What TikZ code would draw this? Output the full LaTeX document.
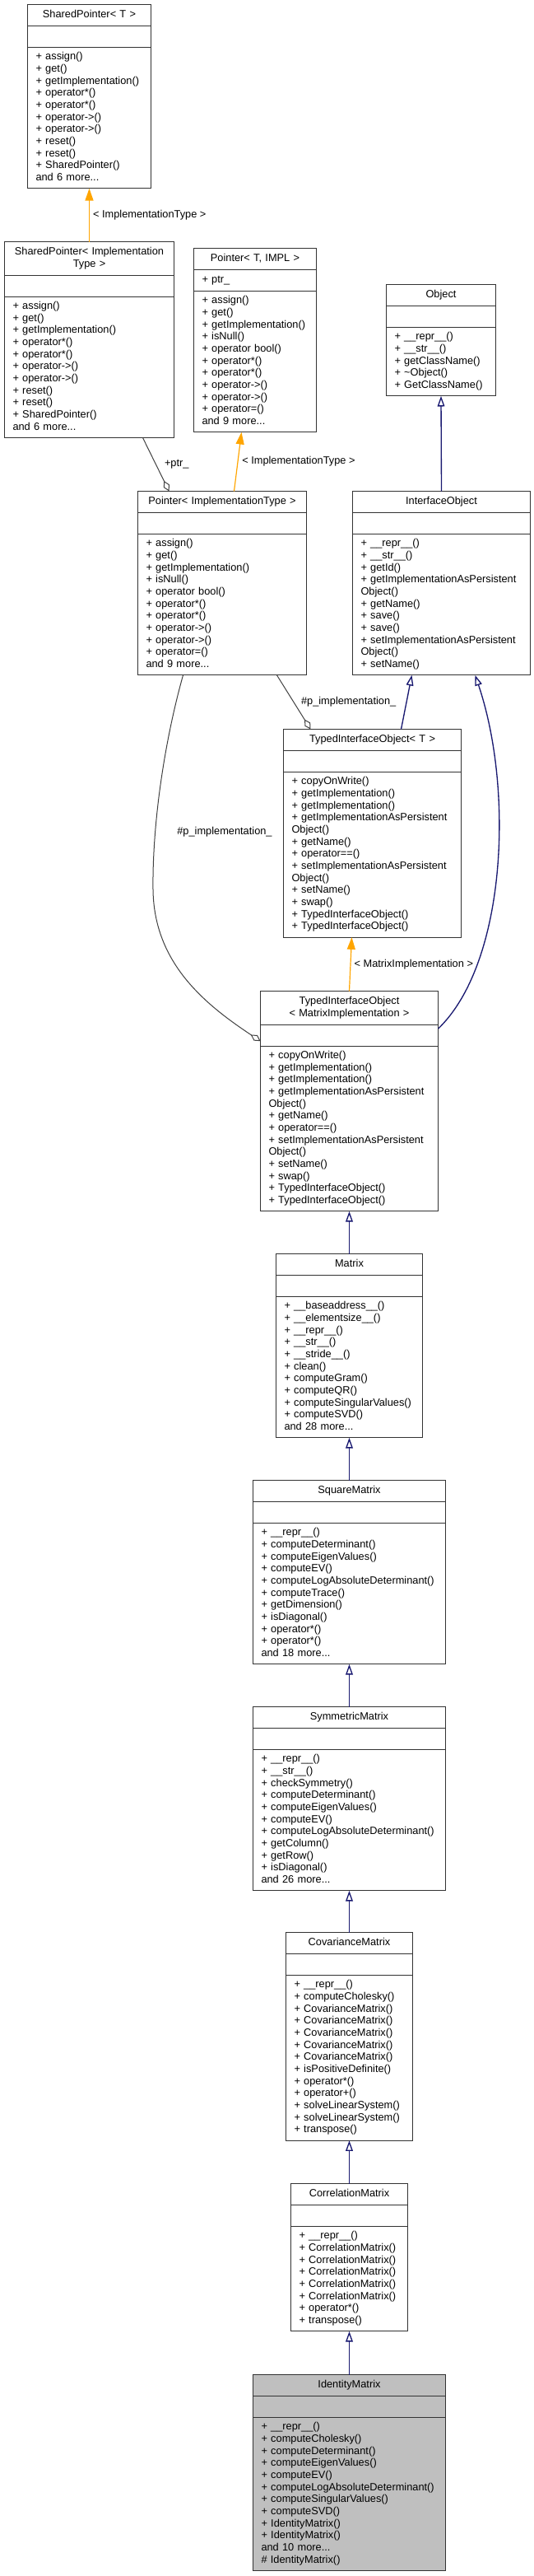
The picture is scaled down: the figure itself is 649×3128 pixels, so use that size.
\documentclass[tikz,border=0pt]{standalone}
\usepackage{fontspec}
\setmainfont{Liberation Sans}
\usetikzlibrary{arrows.meta,calc}
\definecolor{DoxNavy}{HTML}{191970}
\definecolor{DoxOrange}{HTML}{FFA500}
\definecolor{DoxGrey}{HTML}{404040}
\definecolor{DoxSel}{HTML}{BFBFBF}
% one class = title, attributes, operations (x = box width in px)
\newcommand{\umlclass}[7][white]{%
 \pgfmathsetlengthmacro{\clswd}{(#4-20)*0.75pt}%
 \node[clstitle,fill=#1,text width=\clswd,anchor=north west] (#2) at (#3) {#5};
 \node[clsattr,fill=#1,text width=\clswd,anchor=north west] (#2-a) at (#2.south west) {#6};
 \node[clsops,fill=#1,text width=\clswd,anchor=north west] (#2-m) at (#2-a.south west) {#7};
 \draw[clsline] (#2.north west) rectangle (#2-m.south east)
  (#2.south west) -- (#2.south east) (#2-a.south west) -- (#2-a.south east);}

\begin{document}
\begin{tikzpicture}[x=0.75pt,y=-0.75pt,
 every node/.style={font=\fontsize{9.6pt}{11pt}\selectfont},
 clsbox/.style={inner xsep=7.5pt,outer sep=0pt,execute at end node=\strut},
 clstitle/.style={clsbox,inner ysep=4.25pt,align=center,execute at begin node=\strut},
 clsattr/.style={clsbox,inner ysep=4.25pt,execute at begin node=\strut},
 clsops/.style={clsbox,inner ysep=3.75pt,execute at begin node={\strut\rightskip=0pt plus 1fil minus 40pt\relax}},
 clsline/.style={draw=black!80,line width=0.75pt},
 inherit/.style={draw=DoxNavy,line width=1pt,-{Triangle[open,length=9.5pt,width=6.5pt]}},
 tmpl/.style={draw=DoxOrange,line width=0.9pt,-{Triangle[length=11pt,width=7.5pt]}},
 usage/.style={draw=DoxGrey,line width=0.75pt,-{Diamond[open,length=10.5pt,width=6pt]}},
 lbl/.style={inner sep=2pt}]
\useasboundingbox (0,0) rectangle (649,3128);

\umlclass{sptrT}{33.5,5.5}{150}{SharedPointer< T >}{}{+ assign()\\+ get()\\+ getImplementation()\\+ operator*()\\+ operator*()\\+ operator->()\\+ operator->()\\+ reset()\\+ reset()\\+ SharedPointer()\\and 6 more...}
\umlclass{sptrImpl}{5.5,293.5}{206}{SharedPointer< Implementation\\Type >}{}{+ assign()\\+ get()\\+ getImplementation()\\+ operator*()\\+ operator*()\\+ operator->()\\+ operator->()\\+ reset()\\+ reset()\\+ SharedPointer()\\and 6 more...}
\umlclass{ptrTI}{235.5,301.5}{149}{Pointer< T, IMPL >}{+ ptr\_}{+ assign()\\+ get()\\+ getImplementation()\\+ isNull()\\+ operator bool()\\+ operator*()\\+ operator*()\\+ operator->()\\+ operator->()\\+ operator=()\\and 9 more...}
\umlclass{ptrImpl}{167.5,596.5}{205}{Pointer< ImplementationType >}{}{+ assign()\\+ get()\\+ getImplementation()\\+ isNull()\\+ operator bool()\\+ operator*()\\+ operator*()\\+ operator->()\\+ operator->()\\+ operator=()\\and 9 more...}
\umlclass{object}{469.5,345.5}{133}{Object}{}{+ \_\_repr\_\_()\\+ \_\_str\_\_()\\+ getClassName()\\+ \textasciitilde Object()\\+ GetClassName()}
\umlclass{iface}{428.5,596.5}{216}{InterfaceObject}{}{+ \_\_repr\_\_()\\+ \_\_str\_\_()\\+ getId()\\+ getImplementationAsPersistent\\Object()\\+ getName()\\+ save()\\+ save()\\+ setImplementationAsPersistent\\Object()\\+ setName()}
\umlclass{tioT}{344.5,885.5}{216}{TypedInterfaceObject< T >}{}{+ copyOnWrite()\\+ getImplementation()\\+ getImplementation()\\+ getImplementationAsPersistent\\Object()\\+ getName()\\+ operator==()\\+ setImplementationAsPersistent\\Object()\\+ setName()\\+ swap()\\+ TypedInterfaceObject()\\+ TypedInterfaceObject()}
\umlclass{tioMI}{316.5,1203.5}{216}{TypedInterfaceObject\\< MatrixImplementation >}{}{+ copyOnWrite()\\+ getImplementation()\\+ getImplementation()\\+ getImplementationAsPersistent\\Object()\\+ getName()\\+ operator==()\\+ setImplementationAsPersistent\\Object()\\+ setName()\\+ swap()\\+ TypedInterfaceObject()\\+ TypedInterfaceObject()}
\umlclass{matrix}{335.5,1522.5}{178}{Matrix}{}{+ \_\_baseaddress\_\_()\\+ \_\_elementsize\_\_()\\+ \_\_repr\_\_()\\+ \_\_str\_\_()\\+ \_\_stride\_\_()\\+ clean()\\+ computeGram()\\+ computeQR()\\+ computeSingularValues()\\+ computeSVD()\\and 28 more...}
\umlclass{sqmat}{307.5,1797.5}{234}{SquareMatrix}{}{+ \_\_repr\_\_()\\+ computeDeterminant()\\+ computeEigenValues()\\+ computeEV()\\+ computeLogAbsoluteDeterminant()\\+ computeTrace()\\+ getDimension()\\+ isDiagonal()\\+ operator*()\\+ operator*()\\and 18 more...}
\umlclass{symmat}{307.5,2072.5}{234}{SymmetricMatrix}{}{+ \_\_repr\_\_()\\+ \_\_str\_\_()\\+ checkSymmetry()\\+ computeDeterminant()\\+ computeEigenValues()\\+ computeEV()\\+ computeLogAbsoluteDeterminant()\\+ getColumn()\\+ getRow()\\+ isDiagonal()\\and 26 more...}
\umlclass{covmat}{347.5,2346.5}{154}{CovarianceMatrix}{}{+ \_\_repr\_\_()\\+ computeCholesky()\\+ CovarianceMatrix()\\+ CovarianceMatrix()\\+ CovarianceMatrix()\\+ CovarianceMatrix()\\+ CovarianceMatrix()\\+ isPositiveDefinite()\\+ operator*()\\+ operator+()\\+ solveLinearSystem()\\+ solveLinearSystem()\\+ transpose()}
\umlclass{cormat}{353.5,2651.5}{142}{CorrelationMatrix}{}{+ \_\_repr\_\_()\\+ CorrelationMatrix()\\+ CorrelationMatrix()\\+ CorrelationMatrix()\\+ CorrelationMatrix()\\+ CorrelationMatrix()\\+ operator*()\\+ transpose()}
\umlclass[DoxSel]{idmat}{307.5,2883.5}{234}{IdentityMatrix}{}{+ \_\_repr\_\_()\\+ computeCholesky()\\+ computeDeterminant()\\+ computeEigenValues()\\+ computeEV()\\+ computeLogAbsoluteDeterminant()\\+ computeSingularValues()\\+ computeSVD()\\+ IdentityMatrix()\\+ IdentityMatrix()\\and 10 more...\\\# IdentityMatrix()}

% template instances
\draw[tmpl] (sptrImpl.north) -- node[lbl,right=1pt] (tiA) {< ImplementationType >} (sptrT-m.south);
\draw[tmpl] ($(ptrImpl.north)+(14.5,0)$) -- node[lbl,right=1.5pt] (tiB) {< ImplementationType >} ($(ptrTI-m.south)+(-16.5,0)$);
\draw[tmpl] (tioMI.north) -- node[lbl,right=1pt] (tiC) {< MatrixImplementation >} ($(tioT-m.south)+(-25,0)$);

% members
\draw[usage] ($(sptrImpl-m.south)+(65,0)$) -- node[lbl,right=5.5pt] (ptrlbl) {+ptr\_} ($(ptrImpl.north)+(-64.5,0)$);
\draw[usage] ($(ptrImpl-m.south)+(66.5,0)$) -- node[lbl,right=4.4pt] (implA) {\#p\_implementation\_} ($(tioT.north)+(-75,0)$);
\draw[usage] ($(ptrImpl-m.south)+(-47.5,0)$) .. controls (200,900) and (185,1000) .. (186,1080)
 .. controls (187,1170) and (250,1220) .. ($(tioMI-a.west)+(0,7)$);
\node[lbl] (implB) at (273,1010) {\#p\_implementation\_};

% inheritance
\draw[inherit] (iface.north) -- (object-m.south);
\draw[inherit] ($(tioT.north)+(35,0)$) -- ($(iface-m.south)+(-36,0)$);
\draw[inherit] ($(tioMI-a.north east)+(0,5)$) .. controls (615,1170) and (625,960) .. ($(iface-m.south)+(41,0)$);
\draw[inherit] (matrix.north) -- (tioMI-m.south);
\draw[inherit] (sqmat.north) -- (matrix-m.south);
\draw[inherit] (symmat.north) -- (sqmat-m.south);
\draw[inherit] (covmat.north) -- (symmat-m.south);
\draw[inherit] (cormat.north) -- (covmat-m.south);
\draw[inherit] (idmat.north) -- (cormat-m.south);
\end{tikzpicture}
\end{document}
